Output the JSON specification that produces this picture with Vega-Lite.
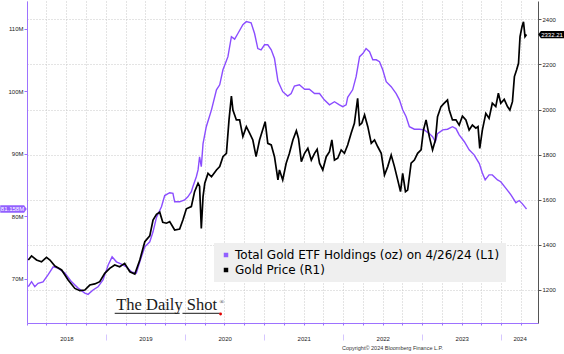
{
  "$schema": "https://vega.github.io/schema/vega-lite/v6.json",
  "width": 511,
  "height": 322,
  "autosize": {"type": "none"},
  "padding": {"left": 27, "right": 26, "top": 1, "bottom": 31},
  "background": "#ffffff",
  "config": {
    "view": {"stroke": null},
    "axis": {"labelFont": "Liberation Sans", "labelFontSize": 6, "labelColor": "#222222", "titleFont": "Liberation Sans"}
  },
  "datasets": {
    "etf": [
      {"date": "2018-01-07", "oz": 68720000},
      {"date": "2018-01-22", "oz": 69520000},
      {"date": "2018-02-06", "oz": 68720000},
      {"date": "2018-02-21", "oz": 69260000},
      {"date": "2018-03-16", "oz": 69500000},
      {"date": "2018-04-08", "oz": 70600000},
      {"date": "2018-05-02", "oz": 71900000},
      {"date": "2018-05-25", "oz": 71700000},
      {"date": "2018-06-25", "oz": 70900000},
      {"date": "2018-07-26", "oz": 69500000},
      {"date": "2018-08-25", "oz": 68500000},
      {"date": "2018-09-25", "oz": 67700000},
      {"date": "2018-10-10", "oz": 67500000},
      {"date": "2018-11-02", "oz": 68200000},
      {"date": "2018-11-25", "oz": 68700000},
      {"date": "2018-12-18", "oz": 69800000},
      {"date": "2019-01-11", "oz": 72200000},
      {"date": "2019-01-29", "oz": 73500000},
      {"date": "2019-02-18", "oz": 72700000},
      {"date": "2019-03-13", "oz": 72350000},
      {"date": "2019-04-05", "oz": 71900000},
      {"date": "2019-04-28", "oz": 71100000},
      {"date": "2019-05-21", "oz": 70900000},
      {"date": "2019-06-06", "oz": 72700000},
      {"date": "2019-06-29", "oz": 75100000},
      {"date": "2019-07-22", "oz": 75900000},
      {"date": "2019-08-06", "oz": 77500000},
      {"date": "2019-08-22", "oz": 79800000},
      {"date": "2019-09-14", "oz": 81500000},
      {"date": "2019-09-29", "oz": 83300000},
      {"date": "2019-10-22", "oz": 83750000},
      {"date": "2019-11-06", "oz": 83650000},
      {"date": "2019-11-14", "oz": 82300000},
      {"date": "2019-12-07", "oz": 82300000},
      {"date": "2019-12-30", "oz": 82600000},
      {"date": "2020-01-14", "oz": 83100000},
      {"date": "2020-01-30", "oz": 83900000},
      {"date": "2020-02-06", "oz": 84700000},
      {"date": "2020-02-22", "oz": 86300000},
      {"date": "2020-03-01", "oz": 87400000},
      {"date": "2020-03-08", "oz": 89500000},
      {"date": "2020-03-16", "oz": 87900000},
      {"date": "2020-03-24", "oz": 91600000},
      {"date": "2020-04-08", "oz": 94300000},
      {"date": "2020-05-02", "oz": 97000000},
      {"date": "2020-05-25", "oz": 100200000},
      {"date": "2020-06-09", "oz": 101000000},
      {"date": "2020-06-24", "oz": 103400000},
      {"date": "2020-07-17", "oz": 105500000},
      {"date": "2020-08-02", "oz": 108700000},
      {"date": "2020-08-17", "oz": 108300000},
      {"date": "2020-09-01", "oz": 109200000},
      {"date": "2020-09-24", "oz": 110600000},
      {"date": "2020-10-10", "oz": 111100000},
      {"date": "2020-11-01", "oz": 110900000},
      {"date": "2020-11-17", "oz": 109200000},
      {"date": "2020-12-02", "oz": 106800000},
      {"date": "2020-12-17", "oz": 106600000},
      {"date": "2021-01-02", "oz": 107400000},
      {"date": "2021-01-17", "oz": 107400000},
      {"date": "2021-02-02", "oz": 106600000},
      {"date": "2021-02-17", "oz": 105200000},
      {"date": "2021-03-05", "oz": 101600000},
      {"date": "2021-03-27", "oz": 99900000},
      {"date": "2021-04-19", "oz": 99200000},
      {"date": "2021-05-05", "oz": 99600000},
      {"date": "2021-05-20", "oz": 100800000},
      {"date": "2021-06-12", "oz": 101000000},
      {"date": "2021-07-06", "oz": 100300000},
      {"date": "2021-07-28", "oz": 100300000},
      {"date": "2021-08-21", "oz": 99600000},
      {"date": "2021-09-13", "oz": 99600000},
      {"date": "2021-10-05", "oz": 98600000},
      {"date": "2021-10-29", "oz": 97800000},
      {"date": "2021-11-21", "oz": 98300000},
      {"date": "2021-12-14", "oz": 97800000},
      {"date": "2021-12-29", "oz": 97500000},
      {"date": "2022-01-14", "oz": 97800000},
      {"date": "2022-01-21", "oz": 99000000},
      {"date": "2022-02-13", "oz": 100200000},
      {"date": "2022-03-01", "oz": 102300000},
      {"date": "2022-03-17", "oz": 105500000},
      {"date": "2022-04-01", "oz": 106000000},
      {"date": "2022-04-16", "oz": 106800000},
      {"date": "2022-05-02", "oz": 106300000},
      {"date": "2022-05-17", "oz": 105000000},
      {"date": "2022-06-02", "oz": 105000000},
      {"date": "2022-06-17", "oz": 104700000},
      {"date": "2022-07-02", "oz": 103400000},
      {"date": "2022-07-18", "oz": 101500000},
      {"date": "2022-08-10", "oz": 100700000},
      {"date": "2022-09-02", "oz": 99600000},
      {"date": "2022-09-17", "oz": 98600000},
      {"date": "2022-10-02", "oz": 97000000},
      {"date": "2022-10-18", "oz": 95900000},
      {"date": "2022-11-02", "oz": 94300000},
      {"date": "2022-11-25", "oz": 93900000},
      {"date": "2022-12-18", "oz": 93900000},
      {"date": "2023-01-10", "oz": 93800000},
      {"date": "2023-02-02", "oz": 93200000},
      {"date": "2023-02-17", "oz": 92700000},
      {"date": "2023-03-02", "oz": 91900000},
      {"date": "2023-03-12", "oz": 93200000},
      {"date": "2023-04-05", "oz": 93800000},
      {"date": "2023-04-27", "oz": 93900000},
      {"date": "2023-05-20", "oz": 94300000},
      {"date": "2023-06-05", "oz": 94000000},
      {"date": "2023-06-20", "oz": 93000000},
      {"date": "2023-07-14", "oz": 91900000},
      {"date": "2023-08-05", "oz": 90600000},
      {"date": "2023-08-28", "oz": 89800000},
      {"date": "2023-09-21", "oz": 88400000},
      {"date": "2023-10-05", "oz": 86900000},
      {"date": "2023-10-18", "oz": 85800000},
      {"date": "2023-11-05", "oz": 86600000},
      {"date": "2023-11-20", "oz": 86600000},
      {"date": "2023-12-14", "oz": 85800000},
      {"date": "2023-12-29", "oz": 85500000},
      {"date": "2024-01-22", "oz": 84450000},
      {"date": "2024-02-14", "oz": 83400000},
      {"date": "2024-03-08", "oz": 82150000},
      {"date": "2024-03-23", "oz": 82500000},
      {"date": "2024-04-05", "oz": 82050000},
      {"date": "2024-04-20", "oz": 81400000},
      {"date": "2024-04-26", "oz": 81158000}
    ],
    "gold": [
      {"date": "2018-01-07", "price": 1333},
      {"date": "2018-01-22", "price": 1351},
      {"date": "2018-02-14", "price": 1333},
      {"date": "2018-03-09", "price": 1325},
      {"date": "2018-04-01", "price": 1345},
      {"date": "2018-04-17", "price": 1333},
      {"date": "2018-05-10", "price": 1306},
      {"date": "2018-06-10", "price": 1289},
      {"date": "2018-07-10", "price": 1244},
      {"date": "2018-08-10", "price": 1207},
      {"date": "2018-09-02", "price": 1197},
      {"date": "2018-09-25", "price": 1200},
      {"date": "2018-10-18", "price": 1222},
      {"date": "2018-11-10", "price": 1227},
      {"date": "2018-12-03", "price": 1237},
      {"date": "2018-12-26", "price": 1274},
      {"date": "2019-01-18", "price": 1296},
      {"date": "2019-02-10", "price": 1311},
      {"date": "2019-03-05", "price": 1303},
      {"date": "2019-03-28", "price": 1318},
      {"date": "2019-04-21", "price": 1281},
      {"date": "2019-05-14", "price": 1271},
      {"date": "2019-06-06", "price": 1333},
      {"date": "2019-06-29", "price": 1414},
      {"date": "2019-07-22", "price": 1440},
      {"date": "2019-08-06", "price": 1510},
      {"date": "2019-08-22", "price": 1535},
      {"date": "2019-09-06", "price": 1545},
      {"date": "2019-09-20", "price": 1500},
      {"date": "2019-10-07", "price": 1496},
      {"date": "2019-10-22", "price": 1503},
      {"date": "2019-11-14", "price": 1466},
      {"date": "2019-12-07", "price": 1470},
      {"date": "2019-12-22", "price": 1510},
      {"date": "2020-01-07", "price": 1560},
      {"date": "2020-01-30", "price": 1570},
      {"date": "2020-02-14", "price": 1636},
      {"date": "2020-03-01", "price": 1673},
      {"date": "2020-03-08", "price": 1660},
      {"date": "2020-03-16", "price": 1473},
      {"date": "2020-03-24", "price": 1614},
      {"date": "2020-04-01", "price": 1673},
      {"date": "2020-04-16", "price": 1717},
      {"date": "2020-05-02", "price": 1702},
      {"date": "2020-05-25", "price": 1732},
      {"date": "2020-06-09", "price": 1747},
      {"date": "2020-06-24", "price": 1791},
      {"date": "2020-07-10", "price": 1806},
      {"date": "2020-07-22", "price": 1954},
      {"date": "2020-08-02", "price": 2060},
      {"date": "2020-08-09", "price": 1998},
      {"date": "2020-08-25", "price": 1954},
      {"date": "2020-09-09", "price": 1954},
      {"date": "2020-09-24", "price": 1880},
      {"date": "2020-10-10", "price": 1924},
      {"date": "2020-10-25", "price": 1895},
      {"date": "2020-11-09", "price": 1865},
      {"date": "2020-11-24", "price": 1791},
      {"date": "2020-12-10", "price": 1865},
      {"date": "2021-01-05", "price": 1946},
      {"date": "2021-01-17", "price": 1850},
      {"date": "2021-02-02", "price": 1843},
      {"date": "2021-02-17", "price": 1791},
      {"date": "2021-03-05", "price": 1688},
      {"date": "2021-03-12", "price": 1732},
      {"date": "2021-03-27", "price": 1688},
      {"date": "2021-04-12", "price": 1762},
      {"date": "2021-04-27", "price": 1806},
      {"date": "2021-05-13", "price": 1865},
      {"date": "2021-05-29", "price": 1906},
      {"date": "2021-06-08", "price": 1872},
      {"date": "2021-06-21", "price": 1769},
      {"date": "2021-07-06", "price": 1806},
      {"date": "2021-07-21", "price": 1828},
      {"date": "2021-08-06", "price": 1776},
      {"date": "2021-08-21", "price": 1806},
      {"date": "2021-09-02", "price": 1824},
      {"date": "2021-09-13", "price": 1762},
      {"date": "2021-09-28", "price": 1732},
      {"date": "2021-10-14", "price": 1791},
      {"date": "2021-10-29", "price": 1813},
      {"date": "2021-11-09", "price": 1865},
      {"date": "2021-11-21", "price": 1776},
      {"date": "2021-12-06", "price": 1784},
      {"date": "2021-12-22", "price": 1821},
      {"date": "2022-01-06", "price": 1806},
      {"date": "2022-01-21", "price": 1843},
      {"date": "2022-02-06", "price": 1895},
      {"date": "2022-02-21", "price": 1939},
      {"date": "2022-03-08", "price": 2050},
      {"date": "2022-03-17", "price": 1931},
      {"date": "2022-03-27", "price": 1939},
      {"date": "2022-04-09", "price": 1976},
      {"date": "2022-04-24", "price": 1924},
      {"date": "2022-05-10", "price": 1850},
      {"date": "2022-05-25", "price": 1865},
      {"date": "2022-06-09", "price": 1835},
      {"date": "2022-06-25", "price": 1806},
      {"date": "2022-07-10", "price": 1710},
      {"date": "2022-07-25", "price": 1747},
      {"date": "2022-08-10", "price": 1798},
      {"date": "2022-08-25", "price": 1747},
      {"date": "2022-09-09", "price": 1688},
      {"date": "2022-09-22", "price": 1636},
      {"date": "2022-10-02", "price": 1717},
      {"date": "2022-10-15", "price": 1636},
      {"date": "2022-10-25", "price": 1643},
      {"date": "2022-11-10", "price": 1762},
      {"date": "2022-11-25", "price": 1776},
      {"date": "2022-12-10", "price": 1806},
      {"date": "2022-12-26", "price": 1821},
      {"date": "2023-01-06", "price": 1909},
      {"date": "2023-01-18", "price": 1954},
      {"date": "2023-02-02", "price": 1880},
      {"date": "2023-02-17", "price": 1821},
      {"date": "2023-03-02", "price": 1865},
      {"date": "2023-03-12", "price": 1968},
      {"date": "2023-03-28", "price": 2013},
      {"date": "2023-04-12", "price": 2028},
      {"date": "2023-04-27", "price": 2042},
      {"date": "2023-05-05", "price": 1998},
      {"date": "2023-05-20", "price": 1954},
      {"date": "2023-06-05", "price": 1954},
      {"date": "2023-06-20", "price": 1931},
      {"date": "2023-07-05", "price": 1971},
      {"date": "2023-07-21", "price": 1954},
      {"date": "2023-08-05", "price": 1909},
      {"date": "2023-08-20", "price": 1931},
      {"date": "2023-09-05", "price": 1917},
      {"date": "2023-09-15", "price": 1924},
      {"date": "2023-09-23", "price": 1828},
      {"date": "2023-10-05", "price": 1909},
      {"date": "2023-10-21", "price": 1983},
      {"date": "2023-11-05", "price": 1961},
      {"date": "2023-11-20", "price": 2028},
      {"date": "2023-12-06", "price": 2013},
      {"date": "2023-12-18", "price": 2072},
      {"date": "2023-12-29", "price": 2028},
      {"date": "2024-01-14", "price": 2045},
      {"date": "2024-01-29", "price": 2013},
      {"date": "2024-02-09", "price": 1998},
      {"date": "2024-02-21", "price": 2035},
      {"date": "2024-03-01", "price": 2146},
      {"date": "2024-03-11", "price": 2175},
      {"date": "2024-03-20", "price": 2205},
      {"date": "2024-03-27", "price": 2323},
      {"date": "2024-04-05", "price": 2367},
      {"date": "2024-04-12", "price": 2389},
      {"date": "2024-04-19", "price": 2323},
      {"date": "2024-04-26", "price": 2332.21}
    ]
  },
  "layer": [
    {
      "data": {"name": "etf"},
      "layer": [
        {
          "mark": {"type": "line", "color": "#8b4dff", "strokeWidth": 1.4},
          "encoding": {
            "x": {
              "field": "date", "type": "temporal",
              "scale": {"type": "utc", "domain": [{"year": 2018, "month": 1, "date": 1, "utc": true}, {"year": 2024, "month": 6, "date": 18, "utc": true}]},
              "axis": {
                "orient": "bottom", "title": null, "labels": false,
                "tickCount": {"interval": "month", "step": 3},
                "domainColor": "#9d72ff", "domainWidth": 1,
                "tickColor": "#9d72ff", "tickSize": 2,
                "grid": true, "gridColor": "#c8c8c8", "gridDash": [1, 2]
              }
            },
            "y": {
              "field": "oz", "type": "quantitative",
              "scale": {"domain": [62920000, 114400000], "nice": false, "zero": false},
              "axis": {
                "orient": "left", "title": null, "grid": false,
                "values": [70000000, 80000000, 90000000, 100000000, 110000000],
                "format": "~s",
                "domainColor": "#9d72ff", "tickColor": "#9d72ff", "tickSize": 3, "labelPadding": 1
              }
            }
          }
        },
        {
          "transform": [{"filter": "datum.oz == 81158000"}],
          "mark": {"type": "point", "shape": "M-1,-0.28L0.8,-0.28L1,0L0.8,0.28L-1,0.28Z", "size": 702, "filled": true, "opacity": 1, "strokeWidth": 0, "xOffset": -13.5},
          "encoding": {
            "x": {"datum": {"year": 2018, "month": 1, "date": 1, "utc": true}, "type": "temporal"},
            "y": {"field": "oz", "type": "quantitative"},
            "color": {
              "datum": "Total Gold ETF Holdings (oz) on 4/26/24 (L1)", "type": "nominal",
              "scale": {"domain": ["Total Gold ETF Holdings (oz) on 4/26/24 (L1)", "Gold Price (R1)"], "range": ["#9260ff", "#000000"]},
              "legend": {
                "title": null, "orient": "none", "legendX": 187, "legendY": 242,
                "fillColor": "#efefef", "padding": 6, "symbolType": "square", "symbolSize": 20,
                "symbolStrokeWidth": 0, "labelFont": "DejaVu Sans", "labelFontSize": 12,
                "labelColor": "#000000", "labelLimit": 500, "rowPadding": 3, "labelOffset": 3
              }
            }
          }
        },
        {
          "transform": [{"filter": "datum.oz == 81158000"}],
          "mark": {"type": "text", "color": "#ffffff", "font": "Liberation Sans", "fontSize": 6, "align": "center", "baseline": "middle", "xOffset": -14.5},
          "encoding": {
            "x": {"datum": {"year": 2018, "month": 1, "date": 1, "utc": true}, "type": "temporal"},
            "y": {"field": "oz", "type": "quantitative"},
            "text": {"field": "oz", "type": "quantitative", "format": ".5s"}
          }
        }
      ]
    },
    {
      "data": {"name": "gold"},
      "layer": [
        {
          "mark": {"type": "line", "color": "#000000", "strokeWidth": 1.7},
          "encoding": {
            "x": {
              "field": "date", "type": "temporal",
              "axis": {
                "orient": "bottom", "domain": false, "ticks": false, "tickSize": 0, "grid": false,
                "values": [
                  {"year": 2018, "month": 7, "date": 2, "utc": true},
                  {"year": 2019, "month": 7, "date": 2, "utc": true},
                  {"year": 2020, "month": 7, "date": 2, "utc": true},
                  {"year": 2021, "month": 7, "date": 2, "utc": true},
                  {"year": 2022, "month": 7, "date": 2, "utc": true},
                  {"year": 2023, "month": 7, "date": 2, "utc": true},
                  {"year": 2024, "month": 3, "date": 25, "utc": true}
                ],
                "format": "%Y", "labelBaseline": "middle", "labelPadding": 15,
                "title": "Copyright© 2024 Bloomberg Finance L.P.",
                "titleFontSize": 5.5, "titleFontWeight": "normal", "titleColor": "#333333",
                "titleX": 365, "titleY": 24, "titleAlign": "center", "titleBaseline": "middle"
              }
            },
            "y": {
              "field": "price", "type": "quantitative",
              "scale": {"domain": [1053.7, 2481.1], "nice": false, "zero": false},
              "axis": {
                "orient": "right", "title": null,
                "values": [1200, 1400, 1600, 1800, 2000, 2200, 2400],
                "format": "d",
                "grid": true, "gridColor": "#c8c8c8", "gridDash": [1, 2],
                "domainColor": "#555555", "tickColor": "#555555", "tickSize": 3, "labelPadding": 1
              }
            }
          }
        },
        {
          "transform": [{"filter": "datum.price == 2332.21"}],
          "mark": {"type": "point", "shape": "M1,-0.28L-0.8,-0.28L-1,0L-0.8,0.28L1,0.28Z", "size": 702, "filled": true, "opacity": 1, "strokeWidth": 0, "xOffset": 13.5},
          "encoding": {
            "x": {"datum": {"year": 2024, "month": 6, "date": 18, "utc": true}, "type": "temporal"},
            "y": {"field": "price", "type": "quantitative"},
            "color": {"datum": "Gold Price (R1)", "type": "nominal"}
          }
        },
        {
          "transform": [{"filter": "datum.price == 2332.21"}],
          "mark": {"type": "text", "color": "#ffffff", "font": "Liberation Sans", "fontSize": 6, "align": "center", "baseline": "middle", "xOffset": 14},
          "encoding": {
            "x": {"datum": {"year": 2024, "month": 6, "date": 18, "utc": true}, "type": "temporal"},
            "y": {"field": "price", "type": "quantitative"},
            "text": {"field": "price", "type": "quantitative", "format": ".2f"}
          }
        }
      ]
    },
    {
      "data": {"values": [{}]},
      "layer": [
        {
          "mark": {"type": "text", "text": "The Daily Shot", "font": "Liberation Serif", "fontSize": 16.5, "color": "#1a1a1a", "align": "center", "baseline": "alphabetic"},
          "encoding": {
            "x": {
              "datum": {"year": 2019, "month": 10, "date": 8, "utc": true}, "type": "temporal",
              "axis": {
                "orient": "bottom", "title": null, "labels": false, "domain": false, "grid": false,
                "values": [
                  {"year": 2019, "month": 1, "date": 1, "utc": true},
                  {"year": 2020, "month": 1, "date": 1, "utc": true},
                  {"year": 2021, "month": 1, "date": 1, "utc": true},
                  {"year": 2022, "month": 1, "date": 1, "utc": true},
                  {"year": 2023, "month": 1, "date": 1, "utc": true},
                  {"year": 2024, "month": 1, "date": 1, "utc": true}
                ],
                "ticks": true, "tickSize": 6, "tickColor": "#d5c6ff", "offset": 11
              }
            },
            "y": {"datum": 65000000, "type": "quantitative", "scale": {"domain": [62920000, 114400000], "nice": false, "zero": false}, "axis": null}
          }
        },
        {
          "mark": {"type": "text", "text": "®", "font": "Liberation Serif", "fontSize": 6, "color": "#1a1a1a", "align": "center", "baseline": "alphabetic"},
          "encoding": {
            "x": {"datum": {"year": 2020, "month": 6, "date": 18, "utc": true}, "type": "temporal"},
            "y": {"datum": 65960000, "type": "quantitative"}
          }
        },
        {
          "mark": {"type": "rule", "color": "#1a1a1a", "strokeWidth": 1},
          "encoding": {
            "x": {"datum": {"year": 2019, "month": 2, "date": 10, "utc": true}, "type": "temporal"},
            "x2": {"datum": {"year": 2019, "month": 12, "date": 7, "utc": true}},
            "y": {"datum": 64470000, "type": "quantitative"}
          }
        },
        {
          "mark": {"type": "rule", "color": "#1a1a1a", "strokeWidth": 1},
          "encoding": {
            "x": {"datum": {"year": 2019, "month": 12, "date": 20, "utc": true}, "type": "temporal"},
            "x2": {"datum": {"year": 2020, "month": 6, "date": 9, "utc": true}},
            "y": {"datum": 64470000, "type": "quantitative"}
          }
        },
        {
          "mark": {"type": "point", "filled": true, "color": "#e00000", "size": 8, "opacity": 1},
          "encoding": {
            "x": {"datum": {"year": 2020, "month": 6, "date": 13, "utc": true}, "type": "temporal"},
            "y": {"datum": 64360000, "type": "quantitative"}
          }
        }
      ]
    }
  ],
  "resolve": {"scale": {"y": "independent"}, "axis": {"x": "independent", "y": "independent"}}
}
